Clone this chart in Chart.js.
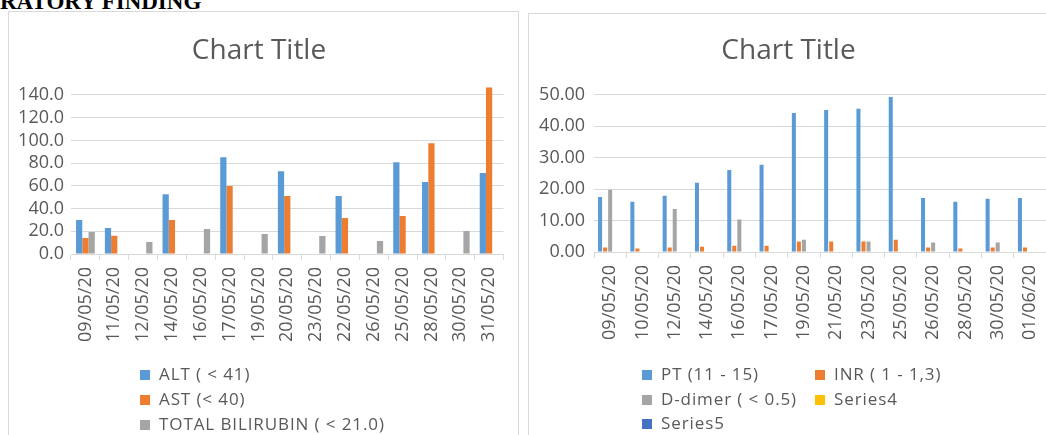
<!DOCTYPE html>
<html>
<head>
<meta charset="utf-8">
<script src="https://cdn.jsdelivr.net/npm/chart.js@4.4.1/dist/chart.umd.min.js"></script>
<style>
  html, body { margin: 0; padding: 0; background: #fff; overflow: hidden; width: 1046px; height: 435px; }
  body { position: relative; font-family: "Open Sans", sans-serif; }
  .heading { position: absolute; left: 0; top: -9px; font: bold 23px/22px "Liberation Serif", serif; color: #000; white-space: nowrap; }
  .box { position: absolute; border: 1px solid #d9d9d9; background: #fff; }
  .box canvas { position: absolute; left: 0; top: 0; }
  .lg { position: absolute; white-space: nowrap; font-size: 17px; letter-spacing: 0.9px; line-height: 20px; color: #595959; }
  .lg i { position: absolute; left: 0; top: 5px; width: 10px; height: 10px; }
  .lg span { position: absolute; left: 19px; top: -1px; }
</style>
</head>
<body>
<div class="heading">RATORY FINDING</div>
<div class="box" style="left:8px; top:11px; width:509px; height:440px;">
  <canvas id="liver" width="509" height="424"></canvas>
</div>
<div class="box" style="left:528px; top:13px; width:530px; height:440px;">
  <canvas id="coag" width="530" height="424"></canvas>
</div>
<div id="legends"></div>
<script>
// liver panel
const liverDates = ["09/05/20", "11/05/20", "12/05/20", "14/05/20", "16/05/20", "17/05/20", "19/05/20",
  "20/05/20", "23/05/20", "22/05/20", "26/05/20", "25/05/20", "28/05/20", "30/05/20", "31/05/20"];
const alt = [30, 22.8, null, 52.7, null, 85.2, null, 72.9, null, 51, null, 80.8, 63.3, null, 71.2];
const ast = [14.1, 16.1, null, 29.9, null, 59.8, null, 51, null, 31.6, null, 33.4, 97.5, null, 146.5];
const bilirubin = [19.3, null, 10.5, null, 22, null, 17.6, null, 15.8, null, 11.4, null, null, 20.2, null];

// coagulation panel
const coagDates = ["09/05/20", "10/05/20", "12/05/20", "14/05/20", "16/05/20", "17/05/20", "19/05/20",
  "21/05/20", "23/05/20", "25/05/20", "26/05/20", "28/05/20", "30/05/20", "01/06/20"];
const pt = [17.5, 16, 17.9, 22, 26.1, 27.7, 44.2, 45.1, 45.5, 49.3, 17.2, 16, 16.9, 17.2];
const inr = [1.4, 1.1, 1.4, 1.7, 2, 2, 3.3, 3.3, 3.3, 3.9, 1.4, 1.1, 1.4, 1.4];
const dDimer = [19.8, null, 13.7, null, 10.3, null, 3.9, null, 3.3, null, 3, null, 3, null];
const series4 = [null, null, null, null, null, null, null, null, null, null, null, null, null, null];
const series5 = [null, null, null, null, null, null, null, null, null, null, null, null, null, null];

const BLUE = "#5b9bd5", ORANGE = "#ed7d31", GREY = "#a5a5a5", GOLD = "#ffc000", NAVY = "#4472c4";
const TEXT = "#595959", GRID = "#d9d9d9";

Chart.defaults.font.family = "'Open Sans', sans-serif";
Chart.defaults.color = TEXT;

function buildChart(id, cfg) {
  return new Chart(document.getElementById(id), {
    type: "bar",
    data: {
      labels: cfg.labels,
      datasets: cfg.series.map(s => ({
        label: s.label,
        data: s.data,
        backgroundColor: s.color,
        borderWidth: 0,
        categoryPercentage: cfg.catPct,
        barPercentage: cfg.barPct
      }))
    },
    options: {
      responsive: false,
      animation: false,
      layout: { padding: { left: 0, right: cfg.padRight, top: 0, bottom: cfg.padBottom } },
      plugins: {
        legend: { display: false },
        tooltip: { enabled: false },
        title: {
          display: true,
          text: "Chart Title",
          color: TEXT,
          font: { size: 28, weight: "normal", lineHeight: 1.2 },
          padding: cfg.titlePad
        }
      },
      scales: {
        x: {
          grid: { display: true, offset: true, drawOnChartArea: false, drawTicks: true, tickLength: 6, color: GRID },
          border: { display: true, color: GRID },
          ticks: { minRotation: 90, maxRotation: 90, autoSkip: false, padding: 7, font: { size: 18 }, color: TEXT },
          afterFit: axis => { axis.height = 100; }
        },
        y: {
          min: 0,
          max: cfg.yMax,
          grid: { color: GRID, drawTicks: false },
          border: { display: false },
          ticks: {
            stepSize: cfg.step,
            includeBounds: false,
            autoSkip: false,
            padding: cfg.yPad,
            font: { size: 18 },
            color: TEXT,
            callback: v => v.toFixed(cfg.decimals)
          },
          afterFit: axis => { axis.width = cfg.yWidth; }
        }
      }
    }
  });
}

const liverChart = buildChart("liver", {
  labels: liverDates,
  series: [
    { label: "ALT ( < 41)", data: alt, color: BLUE },
    { label: "AST (< 40)", data: ast, color: ORANGE },
    { label: "TOTAL BILIRUBIN ( < 21.0)", data: bilirubin, color: GREY }
  ],
  catPct: 0.65, barPct: 1,
  yMax: 147, step: 20, decimals: 1,
  yWidth: 62, yPad: 7, padRight: 9, padBottom: 82,
  titlePad: { top: 22.2, bottom: 19.2 }
});

const coagChart = buildChart("coag", {
  labels: coagDates,
  series: [
    { label: "PT (11 - 15)", data: pt, color: BLUE },
    { label: "INR ( 1 - 1,3)", data: inr, color: ORANGE },
    { label: "D-dimer ( < 0.5)", data: dDimer, color: GREY },
    { label: "Series4", data: series4, color: GOLD },
    { label: "Series5", data: series5, color: NAVY }
  ],
  catPct: 0.78, barPct: 0.8,
  yMax: 50, step: 10, decimals: 2,
  yWidth: 65, yPad: 9, padRight: 11, padBottom: 86,
  titlePad: { top: 20.2, bottom: 26.9 }
});

// Excel-style legends drawn as html, fed from the chart datasets
function htmlLegend(chart, spots) {
  const host = document.getElementById("legends");
  chart.data.datasets.forEach((ds, i) => {
    const el = document.createElement("div");
    el.className = "lg";
    el.style.left = spots[i][0] + "px";
    el.style.top = (spots[i][1] - 10) + "px";
    el.innerHTML = '<i style="background:' + ds.backgroundColor + '"></i><span>' + ds.label + "</span>";
    host.appendChild(el);
  });
}

htmlLegend(liverChart, [[140, 375], [140, 400], [140, 425]]);
htmlLegend(coagChart, [[642, 375], [815, 375], [642, 400], [815, 400], [642, 424]]);
</script>
</body>
</html>
